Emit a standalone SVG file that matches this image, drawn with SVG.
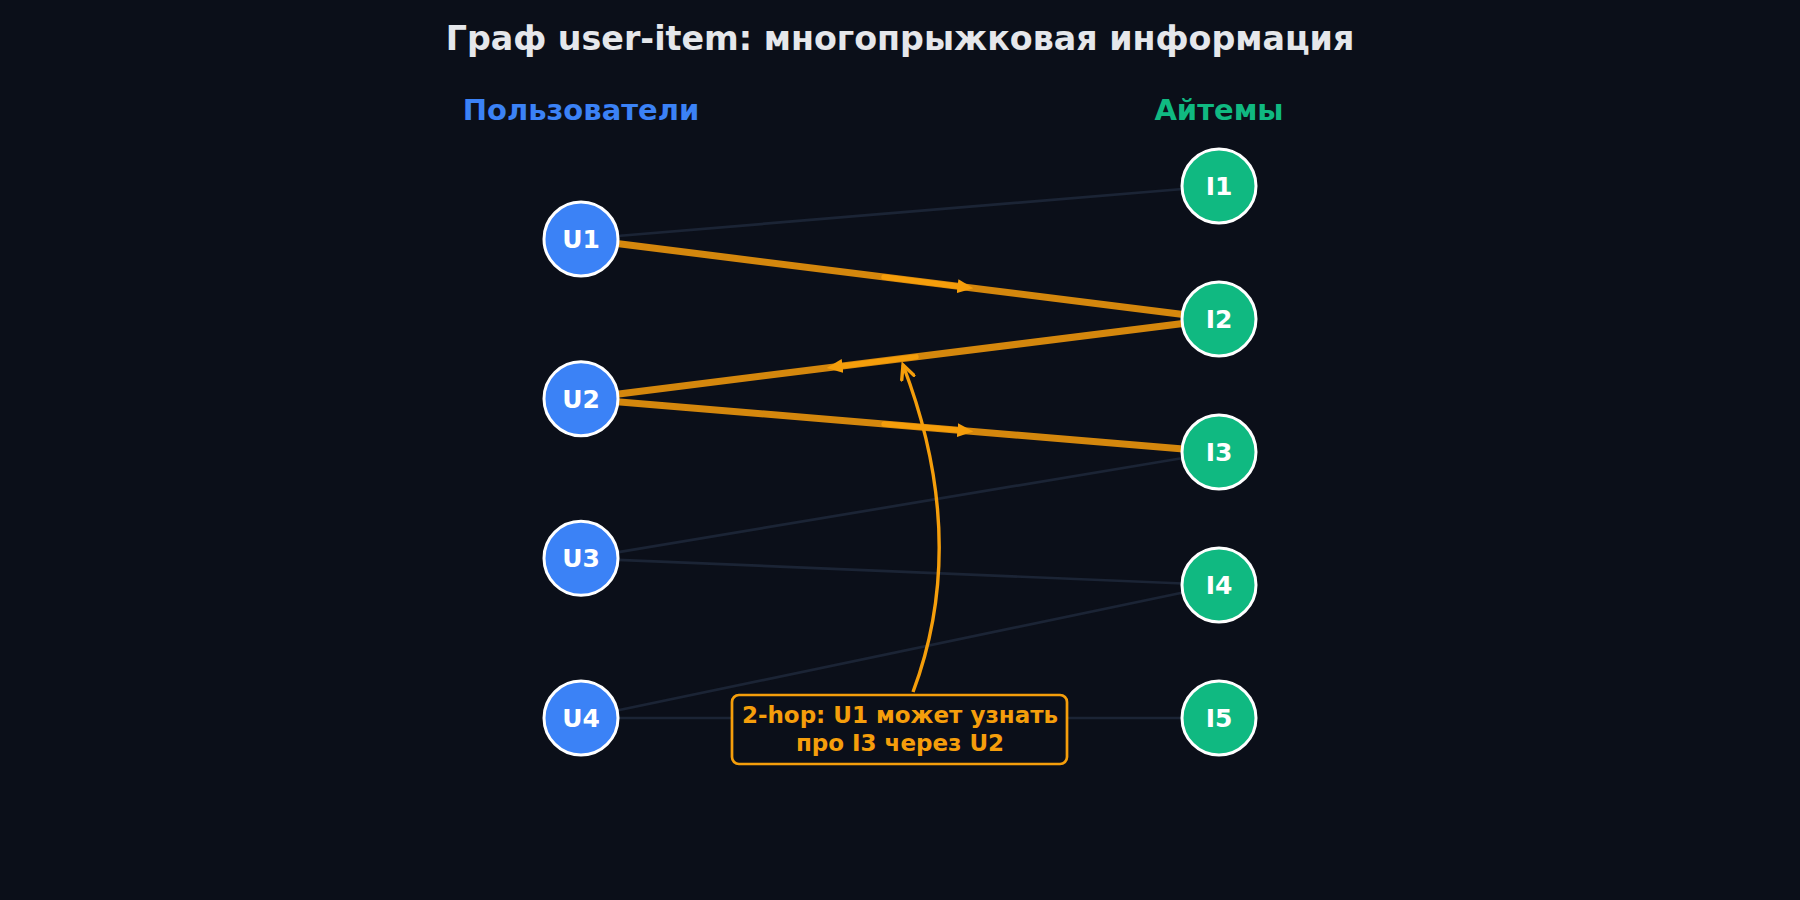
<svg xmlns="http://www.w3.org/2000/svg" width="1800" height="900" viewBox="0 0 1800 900">
<defs>
<style>
.bg{fill:#0b0f19}
.title{font-family:"DejaVu Sans","Noto Sans",sans-serif;font-weight:bold;fill:#e5e7eb;font-size:33.3px;text-anchor:middle}
.col{font-family:"DejaVu Sans","Noto Sans",sans-serif;font-weight:bold;font-size:29px;text-anchor:middle}
.edge{stroke:#1b2435;stroke-width:2.7;fill:none}
.hop{stroke:#d4870d;stroke-width:7;stroke-linecap:butt;fill:none}
.hopmid{stroke:#f59e0b;stroke-width:5.5;stroke-linecap:round;fill:none}
.user circle{fill:#3b82f6;stroke:#ffffff;stroke-width:3}
.item circle{fill:#10b981;stroke:#ffffff;stroke-width:3}
.nlabel{font-family:"DejaVu Sans","Noto Sans",sans-serif;font-weight:bold;font-size:25px;fill:#ffffff;text-anchor:middle}
.note{font-family:"DejaVu Sans","Noto Sans",sans-serif;font-weight:bold;font-size:23px;fill:#f59e0b;text-anchor:middle}
</style>
<marker id="ah" markerUnits="userSpaceOnUse" viewBox="0 0 16 14" refX="8" refY="7" markerWidth="16" markerHeight="14" orient="auto">
<path d="M0,0 L16,7 L0,14 z" fill="#f59e0b"/>
</marker>
<marker id="open" markerUnits="userSpaceOnUse" viewBox="0 0 18 16" refX="15" refY="8" markerWidth="18" markerHeight="16" orient="auto">
<path d="M1.5,1.5 L15,8 L1.5,14.5" fill="none" stroke="#f59e0b" stroke-width="3.4" stroke-linejoin="miter" stroke-linecap="round"/>
</marker>
</defs>
<rect class="bg" x="0" y="0" width="1800" height="900"/>
<text class="title" x="900" y="50">Граф user-item: многопрыжковая информация</text>
<text class="col" x="581" y="120" fill="#3b82f6">Пользователи</text>
<text class="col" x="1219" y="120" fill="#10b981">Айтемы</text>
<g id="connectors">
<line class="edge" x1="581" y1="239" x2="1219" y2="186"/>
<line class="edge" x1="581" y1="558.3" x2="1219" y2="452"/>
<line class="edge" x1="581" y1="558.3" x2="1219" y2="585"/>
<line class="edge" x1="581" y1="718" x2="1219" y2="585"/>
<line class="edge" x1="581" y1="718" x2="1219" y2="718"/>
<line class="hop" x1="581" y1="239" x2="1219" y2="319"/>
<line class="hopmid" x1="884.05" y1="277" x2="965.5" y2="287.2" marker-end="url(#ah)"/>
<line class="hop" x1="1219" y1="319" x2="581" y2="398.7"/>
<line class="hopmid" x1="915.95" y1="356.86" x2="834.6" y2="367" marker-end="url(#ah)"/>
<line class="hop" x1="581" y1="398.7" x2="1219" y2="452"/>
<line class="hopmid" x1="884.05" y1="424" x2="965.4" y2="430.8" marker-end="url(#ah)"/>
<path d="M913,692 Q970,540 903,365" fill="none" stroke="#f59e0b" stroke-width="3.4" marker-end="url(#open)"/>
</g>
<g id="note">
<rect x="732" y="695" width="335" height="69" rx="7" fill="#0b0f19" stroke="#f59e0b" stroke-width="2.7"/>
<text class="note" x="900" y="723">2-hop: U1 может узнать</text>
<text class="note" x="900" y="751">про I3 через U2</text>
</g>
<g id="U1" class="user"><circle cx="581" cy="239" r="37"/><text class="nlabel" x="581" y="248">U1</text></g>
<g id="U2" class="user"><circle cx="581" cy="398.7" r="37"/><text class="nlabel" x="581" y="407.7">U2</text></g>
<g id="U3" class="user"><circle cx="581" cy="558.3" r="37"/><text class="nlabel" x="581" y="567.3">U3</text></g>
<g id="U4" class="user"><circle cx="581" cy="718" r="37"/><text class="nlabel" x="581" y="727">U4</text></g>
<g id="I1" class="item"><circle cx="1219" cy="186" r="37"/><text class="nlabel" x="1219" y="195">I1</text></g>
<g id="I2" class="item"><circle cx="1219" cy="319" r="37"/><text class="nlabel" x="1219" y="328">I2</text></g>
<g id="I3" class="item"><circle cx="1219" cy="452" r="37"/><text class="nlabel" x="1219" y="461">I3</text></g>
<g id="I4" class="item"><circle cx="1219" cy="585" r="37"/><text class="nlabel" x="1219" y="594">I4</text></g>
<g id="I5" class="item"><circle cx="1219" cy="718" r="37"/><text class="nlabel" x="1219" y="727">I5</text></g>
</svg>
